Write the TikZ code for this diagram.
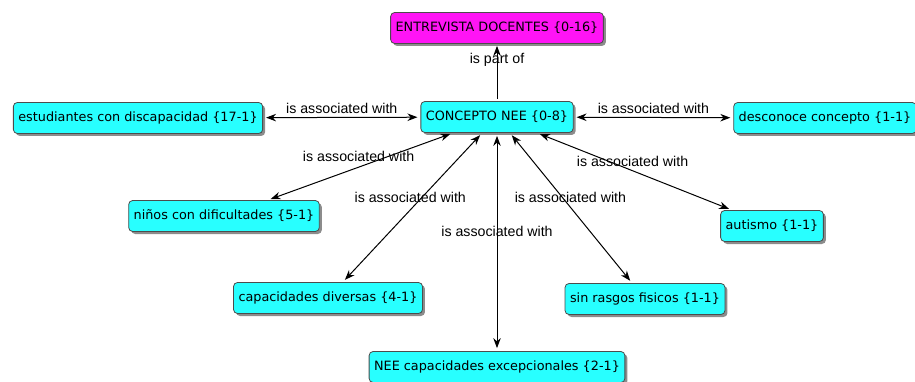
\documentclass[tikz,border=0pt]{standalone}
\usepackage{fontspec}
\setmainfont{Liberation Sans}
\newfontfamily\boxfont{DejaVu Sans}
\usetikzlibrary{arrows.meta,shadows}

\definecolor{aqua}{RGB}{40,255,255}
\definecolor{pinkbox}{RGB}{255,20,245}

\tikzset{
  concept/.style={rectangle, rounded corners=4pt, draw=black!70, line width=0.8pt,
    fill=aqua, minimum height=31pt, inner xsep=5pt,
    font=\boxfont\fontsize{12.8}{15}\selectfont,
    drop shadow={shadow xshift=2.5pt, shadow yshift=-2.5pt, opacity=0.45, fill=black}},
  lbl/.style={font=\fontsize{14.2}{16}\selectfont, inner sep=1pt}
}

\begin{document}
\begin{tikzpicture}[x=1pt, y=-1pt, line width=1pt, >={Stealth[length=10pt,width=7.5pt]}]
\useasboundingbox (0,0) rectangle (915,382);
\draw (497,28) node[concept, fill=pinkbox](a1){ENTREVISTA DOCENTES \{0-16\}}
    (497,117) node[concept](a2){CONCEPTO NEE \{0-8\}}
    (138,118) node[concept](a3){estudiantes con discapacidad \{17-1\}}
    (825,118) node[concept](a4){desconoce concepto \{1-1\}}
    (224,216) node[concept](a5){niños con dificultades \{5-1\}}
    (772,226) node[concept](a6){autismo \{1-1\}}
    (328,298) node[concept](a7){capacidades diversas \{4-1\}}
    (645,299) node[concept](a8){sin rasgos fisicos \{1-1\}}
    (497,367) node[concept](a9){NEE capacidades excepcionales \{2-1\}};
    \draw [->, shorten >=2pt, shorten <=2pt] (a2) -- (a1) node[lbl, pos=0.72] {is part of};
    \draw [<->, shorten >=3pt, shorten <=3pt] (a2) -- (a3) node[lbl, midway, above=2pt] {is associated with};
    \draw [<->, shorten >=3pt, shorten <=3pt] (a2) -- (a4) node[lbl, midway, above=2pt] {is associated with};
    \draw [<->, shorten >=3pt, shorten <=3pt] (a2) -- (a5) node[lbl, pos=0.51, above=4pt] {is associated with};
    \draw [<->, shorten >=3pt, shorten <=3pt] (a2) -- (a6) node[lbl, pos=0.49, above=3pt] {is associated with};
    \draw [<->, shorten >=3pt, shorten <=3pt] (a2) -- (a7) node[lbl, pos=0.43, xshift=-12pt] {is associated with};
    \draw [<->, shorten >=3pt, shorten <=3pt] (a2) -- (a8) node[lbl, pos=0.43, xshift=8pt] {is associated with};
    \draw [<->, shorten >=3pt, shorten <=3pt] (a2) -- (a9) node[lbl, pos=0.45] {is associated with};
\end{tikzpicture}
\end{document}
